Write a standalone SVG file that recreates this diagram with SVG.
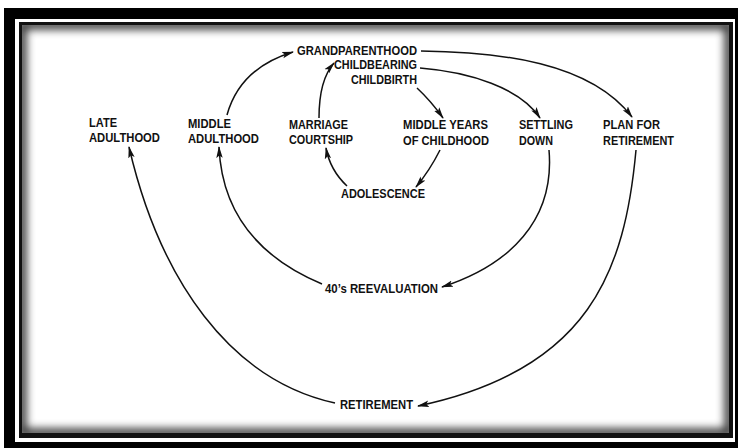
<svg xmlns="http://www.w3.org/2000/svg" width="738" height="448" viewBox="0 0 738 448">
  <style>
    .lbl { font-family: "Liberation Sans", Arial, sans-serif; font-size: 12px; font-weight: bold; fill: #111; }
    .conn { fill: none; stroke: #111; stroke-width: 1.5; }
  </style>
  <defs>
    <marker id="arr" viewBox="0 0 12 8" refX="11" refY="4" markerWidth="12" markerHeight="8" markerUnits="userSpaceOnUse" orient="auto">
      <path d="M0,0.8 L12,4 L0,7.2 L2.5,4 Z" fill="#111"/>
    </marker>
    <clipPath id="inner">
      <rect x="22" y="25" width="707" height="408"/>
    </clipPath>
    <filter id="blur" x="-5%" y="-5%" width="110%" height="110%">
      <feGaussianBlur stdDeviation="4"/>
    </filter>
  </defs>

  <!-- frame -->
  <g id="frame">
    <rect x="0" y="0" width="738" height="448" fill="#fff"/>
    <rect x="4" y="8" width="740" height="445" fill="#000"/>
    <rect x="15" y="19" width="720" height="423" fill="#fff"/>
    <rect x="19" y="22" width="714" height="416" fill="#111"/>
    <rect x="22" y="25" width="707" height="408" fill="#fff"/>
    <g clip-path="url(#inner)">
      <rect x="22" y="25" width="707" height="408" fill="none" stroke="#000" stroke-width="9" filter="url(#blur)" opacity="0.8"/>
    </g>
  </g>

  <!-- connectors -->
  <g id="connectors">
    <path class="conn" marker-end="url(#arr)" d="M227,115 Q240,68 293,52"/>
    <path class="conn" marker-end="url(#arr)" d="M421,51 C500,52 590,62 632,117"/>
    <path class="conn" marker-end="url(#arr)" d="M420,68 C470,72 520,88 540,118"/>
    <path class="conn" marker-end="url(#arr)" d="M417,88 Q431,101 443,118"/>
    <path class="conn" marker-end="url(#arr)" d="M440,150 Q430,170 416,187"/>
    <path class="conn" marker-end="url(#arr)" d="M347,186 Q330,170 326,148"/>
    <path class="conn" marker-end="url(#arr)" d="M319,118 Q319,80 334,63"/>
    <path class="conn" marker-end="url(#arr)" d="M549,150 C555,220 510,265 442,287"/>
    <path class="conn" marker-end="url(#arr)" d="M322,284 C260,258 222,215 219,147"/>
    <path class="conn" marker-end="url(#arr)" d="M335,403 C230,380 160,280 129,147"/>
    <path class="conn" marker-end="url(#arr)" d="M636,150 C625,270 590,370 418,406"/>
  </g>

  <!-- nodes -->
  <g id="grandparenthood"><text class="lbl" x="297" y="55" textLength="120" lengthAdjust="spacingAndGlyphs">GRANDPARENTHOOD</text></g>
  <g id="childbearing"><text class="lbl" x="334" y="69" textLength="83" lengthAdjust="spacingAndGlyphs">CHILDBEARING</text></g>
  <g id="childbirth"><text class="lbl" x="351" y="84" textLength="66" lengthAdjust="spacingAndGlyphs">CHILDBIRTH</text></g>
  <g id="late-adulthood">
    <text class="lbl" x="89" y="127" textLength="28" lengthAdjust="spacingAndGlyphs">LATE</text>
    <text class="lbl" x="89" y="142" textLength="71" lengthAdjust="spacingAndGlyphs">ADULTHOOD</text>
  </g>
  <g id="middle-adulthood">
    <text class="lbl" x="188" y="128" textLength="43" lengthAdjust="spacingAndGlyphs">MIDDLE</text>
    <text class="lbl" x="188" y="143" textLength="71" lengthAdjust="spacingAndGlyphs">ADULTHOOD</text>
  </g>
  <g id="marriage-courtship">
    <text class="lbl" x="289" y="129" textLength="59" lengthAdjust="spacingAndGlyphs">MARRIAGE</text>
    <text class="lbl" x="289" y="144" textLength="64" lengthAdjust="spacingAndGlyphs">COURTSHIP</text>
  </g>
  <g id="middle-years">
    <text class="lbl" x="403" y="129" textLength="85" lengthAdjust="spacingAndGlyphs">MIDDLE YEARS</text>
    <text class="lbl" x="403" y="145" textLength="86" lengthAdjust="spacingAndGlyphs">OF CHILDHOOD</text>
  </g>
  <g id="settling-down">
    <text class="lbl" x="519" y="129" textLength="54" lengthAdjust="spacingAndGlyphs">SETTLING</text>
    <text class="lbl" x="519" y="145" textLength="34" lengthAdjust="spacingAndGlyphs">DOWN</text>
  </g>
  <g id="plan-for-retirement">
    <text class="lbl" x="603" y="129" textLength="57" lengthAdjust="spacingAndGlyphs">PLAN FOR</text>
    <text class="lbl" x="603" y="145" textLength="71" lengthAdjust="spacingAndGlyphs">RETIREMENT</text>
  </g>
  <g id="adolescence"><text class="lbl" x="341" y="198" textLength="84" lengthAdjust="spacingAndGlyphs">ADOLESCENCE</text></g>
  <g id="reevaluation"><text class="lbl" x="325" y="293" textLength="113" lengthAdjust="spacingAndGlyphs">40’s REEVALUATION</text></g>
  <g id="retirement"><text class="lbl" x="340" y="409" textLength="73" lengthAdjust="spacingAndGlyphs">RETIREMENT</text></g>
</svg>
